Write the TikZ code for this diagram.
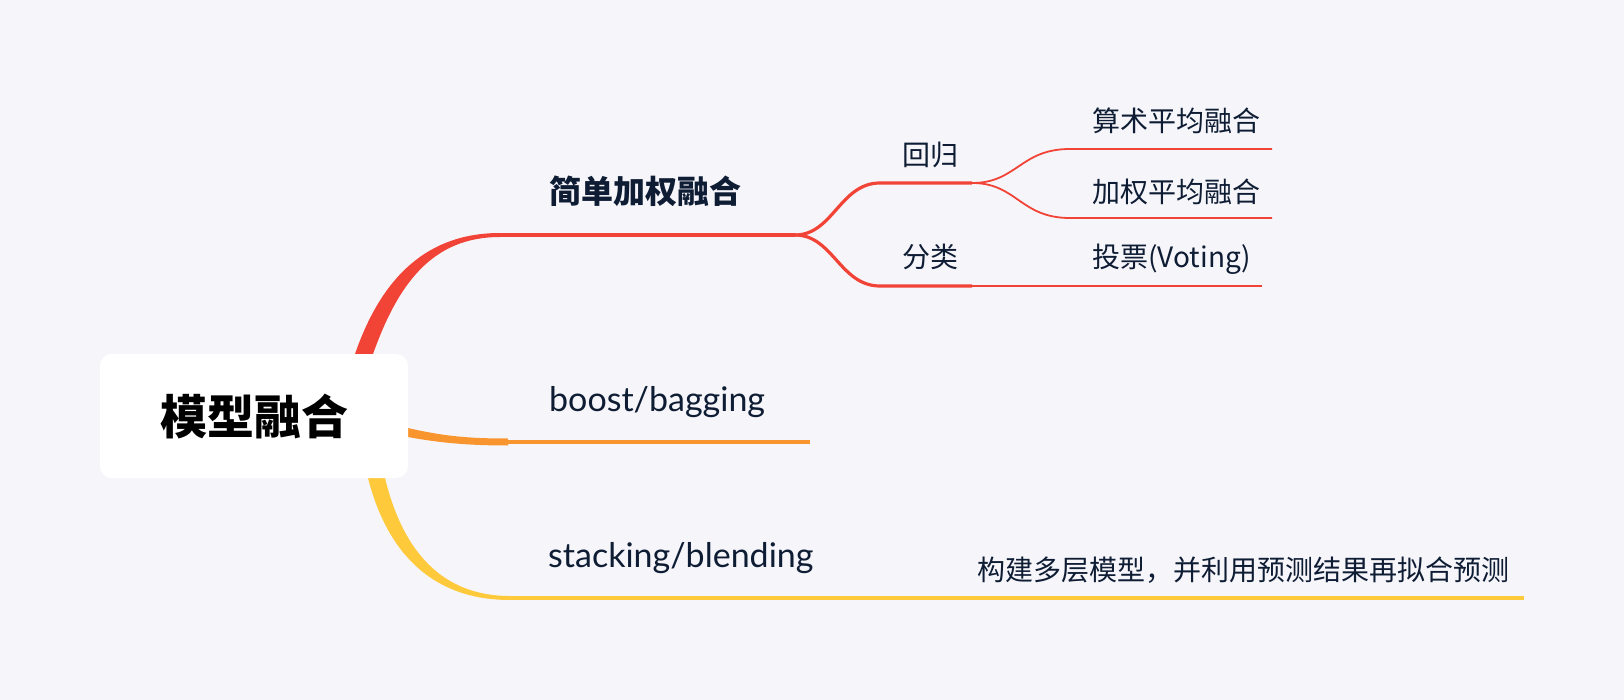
\documentclass[tikz,border=0pt]{standalone}
\usepackage{fontspec}
\setmainfont{Lato}
\newfontfamily\cjk{Noto Sans CJK SC}
\definecolor{bgc}{RGB}{246,246,250}
\definecolor{redc}{RGB}{242,67,55}
\definecolor{orc}{RGB}{249,149,46}
\definecolor{yec}{RGB}{255,201,60}
\definecolor{txc}{RGB}{14,28,52}
\pgfdeclarelayer{bglayer}
\pgfdeclarelayer{lines}
\pgfsetlayers{bglayer,lines,main}
\begin{document}
\begin{tikzpicture}[x=1pt,y=-1pt,
  lab/.style={anchor=base west,inner sep=0pt,text=txc},
  latinlab/.style={lab,font=\fontsize{34}{40}\selectfont},
  boldlab/.style={lab,font=\cjk\bfseries\fontsize{32}{38}\selectfont},
  cjklab/.style={lab,font=\cjk\fontsize{28}{34}\selectfont},
  rootbox/.style={fill=white,rounded corners=12pt,minimum width=308pt,minimum height=124pt,inner sep=0pt,text=black,font=\cjk\bfseries\fontsize{47}{56}\selectfont},
  thickline/.style={line width=4pt},
  midline/.style={line width=3.2pt},
  thinline/.style={line width=1.8pt}
]
\useasboundingbox (0,0) rectangle (1624,700);
\begin{pgfonlayer}{bglayer}
\fill[bgc] (0,0) rectangle (1624,700);
\end{pgfonlayer}

% root
\node[rootbox] (root) at (254,416) {模型融合};

% labels
\node[boldlab] (b1) at (549,204) {简单加权融合};
\node[latinlab] (b2) at (549,411) {boost/bagging};
\node[latinlab] (b3) at (548,567) {stacking/blending};
\node[cjklab] (c1) at (902,166) {回归};
\node[cjklab] (c2) at (902,268) {分类};
\node[cjklab] (d1) at (1092,132) {算术平均融合};
\node[cjklab] (d2) at (1092,203) {加权平均融合};
\node[cjklab] (d3) at (1092,268) {{\cjk 投票}(Voting)};
\node[cjklab] (e1) at (977,580) {构建多层模型，并利用预测结果再拟合预测};

% line coordinates
\coordinate (b1s) at (500,235);
\coordinate (b1e) at (795,235);
\coordinate (c1s) at (880,183);
\coordinate (c1e) at (972,183);
\coordinate (c2s) at (880,286);
\coordinate (c2e) at (972,286);
\coordinate (d1s) at (1070,149);
\coordinate (d1e) at (1272,149);
\coordinate (d2s) at (1070,218);
\coordinate (d2e) at (1272,218);
\coordinate (d3e) at (1262,286);
\coordinate (b2s) at (508,442);
\coordinate (b2e) at (810,442);
\coordinate (b3s) at (510,598);
\coordinate (e1e) at (1524,598);

\begin{pgfonlayer}{lines}
% tapered roots
\fill[redc] (350,380) -- (355,354) .. controls (382,276) and (428,233) .. (500,233)
  -- (500,237) .. controls (432,237) and (398,284) .. (373,354) -- (380,380) -- cycle;
\fill[orc] (380,425) -- (408,428) .. controls (445,436.5) and (470,438.5) .. (508,438.5)
  -- (508,445.5) .. controls (470,445.5) and (440,443) .. (408,437) -- (380,437) -- cycle;
\fill[yec] (362,455) -- (368,478) .. controls (385,545) and (426,600) .. (510,600)
  -- (510,596) .. controls (434,596) and (400,540) .. (385,478) -- (382,455) -- cycle;

% level 1 lines
\draw[redc,thickline] (b1s) -- (b1e);
\draw[orc,thickline] (b2s) -- (b2e);
\draw[yec,thickline] (b3s) -- (e1e);

% level 2
\draw[redc,midline] (b1e) .. controls +(38,0) and +(-40,0) .. (c1s) -- (c1e);
\draw[redc,midline] (b1e) .. controls +(38,0) and +(-40,0) .. (c2s) -- (c2e);

% level 3
\draw[redc,thinline] (c1e) .. controls +(45,0) and +(-50,0) .. (d1s) -- (d1e);
\draw[redc,thinline] (c1e) .. controls +(45,0) and +(-50,0) .. (d2s) -- (d2e);
\draw[redc,thinline] (c2e) -- (d3e);
\end{pgfonlayer}
\end{tikzpicture}
\end{document}
